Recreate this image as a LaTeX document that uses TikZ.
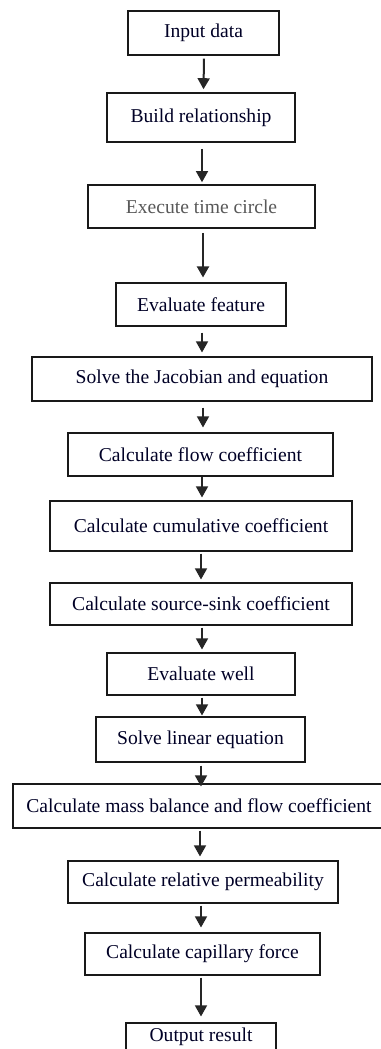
\documentclass[tikz,border=0pt]{standalone}
\usepackage{fontspec}
\setmainfont{Liberation Serif}
\usetikzlibrary{arrows.meta}
\begin{document}
\begin{tikzpicture}[x=1pt,y=-1pt,
  box/.style={draw=black!90, line width=1.1pt, rectangle, inner sep=0pt, align=center,
    font=\fontsize{19.6}{21}\selectfont, text=black!85!blue},
  heavy/.style={line width=1.6pt},
  arr/.style={-{Triangle[width=12pt,length=11pt]}, line width=1.4pt, black!85}]
\useasboundingbox (0,0) rectangle (380,1049);
\fill[white] (0,0) rectangle (380,1049);
\node[box, minimum width=151pt, minimum height=44pt] (n1) at (203.5,33) {Input data};
\node[box, heavy, minimum width=188pt, minimum height=49pt] (n2) at (201,117.5) {Build relationship};
\node[box, heavy, minimum width=227pt, minimum height=43pt, text=black!65] (n3) at (201.5,206.5) {\raisebox{-3pt}{Execute time circle}};
\node[box, minimum width=170pt, minimum height=43pt] (n4) at (201,304.5) {Evaluate feature};
\node[box, minimum width=340pt, minimum height=44pt] (n5) at (202,379) {Solve the Jacobian and equation};
\node[box, minimum width=265pt, minimum height=43pt] (n6) at (200.5,454.5) {Calculate flow coefficient};
\node[box, minimum width=302pt, minimum height=50pt] (n7) at (201,526) {Calculate cumulative coefficient};
\node[box, minimum width=302pt, minimum height=42pt] (n8) at (201,604) {Calculate source-sink coefficient};
\node[box, minimum width=188pt, minimum height=42pt] (n9) at (201,674) {Evaluate well};
\node[box, minimum width=209pt, minimum height=45pt] (n10) at (200.5,739.5) {Solve linear equation};
\node[box, minimum width=372pt, minimum height=44pt] (n11) at (199,806) {Calculate mass balance and flow coefficient};
\node[box, minimum width=270pt, minimum height=42pt] (n12) at (203,882) {Calculate relative permeability};
\node[box, minimum width=235pt, minimum height=42pt] (n13) at (202.5,954) {Calculate capillary force};
\node[box, minimum width=150pt, minimum height=28pt] (n14) at (201,1037) {Output result};
\draw[arr, line width=2pt] ([xshift=0.5pt,yshift=-3pt]n1.south) -- ([yshift=3pt]n1.south |- n2.north);
\draw[arr] ([xshift=1pt,yshift=-6pt]n2.south) -- ([xshift=1pt,yshift=2pt]n2.south |- n3.north);
\draw[arr, line width=2pt] ([xshift=1.5pt,yshift=-4pt]n3.south) -- ([xshift=1.5pt,yshift=5pt]n3.south |- n4.north);
\draw[arr] ([xshift=1pt,yshift=-6pt]n4.south) -- ([xshift=1pt,yshift=4pt]n4.south |- n5.north);
\draw[arr] ([xshift=1pt,yshift=-6pt]n5.south) -- ([xshift=1pt,yshift=5pt]n5.south |- n6.north);
\draw[arr] ([xshift=1.5pt,yshift=0pt]n6.south) -- ([xshift=1.5pt,yshift=3pt]n6.south |- n7.north);
\draw[arr] ([yshift=-2pt]n7.south) -- ([yshift=3pt]n7.south |- n8.north);
\draw[arr] ([xshift=1pt,yshift=-2pt]n8.south) -- ([xshift=1pt,yshift=3pt]n8.south |- n9.north);
\draw[arr] ([xshift=1pt,yshift=-2pt]n9.south) -- ([xshift=1pt,yshift=1pt]n9.south |- n10.north);
\draw[arr] ([xshift=0.5pt,yshift=-3pt]n10.south) -- ([xshift=0.5pt,yshift=-3pt]n10.south |- n11.north);
\draw[arr] ([xshift=1pt,yshift=-2pt]n11.south) -- ([xshift=1pt,yshift=4pt]n11.south |- n12.north);
\draw[arr] ([xshift=-2pt,yshift=-2pt]n12.south) -- ([xshift=-2pt,yshift=5pt]n12.south |- n13.north);
\draw[arr] ([xshift=-1.5pt,yshift=-2pt]n13.south) -- ([xshift=-1.5pt,yshift=6pt]n13.south |- n14.north);
\end{tikzpicture}
\end{document}
